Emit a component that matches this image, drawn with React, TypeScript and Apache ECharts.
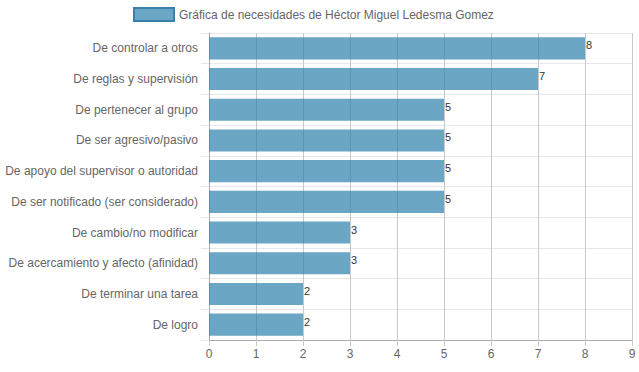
import React, { useEffect, useRef } from "react";
import * as echarts from "echarts";

const categories = [
  "De controlar a otros",
  "De reglas y supervisión",
  "De pertenecer al grupo",
  "De ser agresivo/pasivo",
  "De apoyo del supervisor o autoridad",
  "De ser notificado (ser considerado)",
  "De cambio/no modificar",
  "De acercamiento y afecto (afinidad)",
  "De terminar una tarea",
  "De logro",
];
const values = [8, 7, 5, 5, 5, 5, 3, 3, 2, 2];
const seriesName = "Gráfica de necesidades de Héctor Miguel Ledesma Gomez";

export default function App() {
  const ref = useRef<HTMLDivElement>(null);
  useEffect(() => {
    if (!ref.current) return;
    const chart = echarts.init(ref.current, null, { renderer: "svg" });
    chart.setOption({
      animation: false,
      textStyle: { fontFamily: "Liberation Sans, Arial, sans-serif" },
      legend: {
        top: 7,
        left: 133,
        padding: 0,
        icon: "rect",
        itemWidth: 40,
        itemHeight: 13,
        itemGap: 10,
        textStyle: { color: "#666", fontSize: 12, padding: [0, 0, 0, 0] },
        data: [
          {
            name: seriesName,
            itemStyle: {
              color: "rgba(44,128,172,0.7)",
              borderColor: "#3a80aa",
              borderWidth: 2,
            },
          },
        ],
      },
      grid: { left: 209, right: 7, top: 33, bottom: 32 },
      xAxis: {
        type: "value",
        min: 0,
        max: 9,
        interval: 1,
        axisLine: { show: true, lineStyle: { color: "#aaa" } },
        axisTick: { show: true, length: 6, lineStyle: { color: "#c8c8c8" } },
        axisLabel: { color: "#666", fontSize: 12, margin: 8 },
        splitLine: { show: true, lineStyle: { color: "#c8c8c8", width: 1 } },
      },
      yAxis: {
        type: "category",
        inverse: true,
        data: categories,
        axisLine: { show: true, lineStyle: { color: "#aaa" } },
        axisTick: { show: true, length: 8, lineStyle: { color: "#e8e8e8" } },
        axisLabel: { color: "#666", fontSize: 12, margin: 11 },
        splitLine: { show: true, lineStyle: { color: "#e8e8e8", width: 1 } },
      },
      series: [
        {
          name: seriesName,
          type: "bar",
          data: values,
          barCategoryGap: "28%",
          itemStyle: {
            color: "rgba(44,128,172,0.7)",
          },
          label: {
            show: true,
            position: "right",
            distance: 1,
            offset: [0, -3],
            color: "#333",
            fontSize: 11,
            fontFamily: "Liberation Sans Narrow, Liberation Sans, sans-serif",
          },
        },
      ],
    });
    return () => chart.dispose();
  }, []);
  return <div ref={ref} style={{ width: 639, height: 372, position: "absolute", left: 0, top: 0 }} />;
}
